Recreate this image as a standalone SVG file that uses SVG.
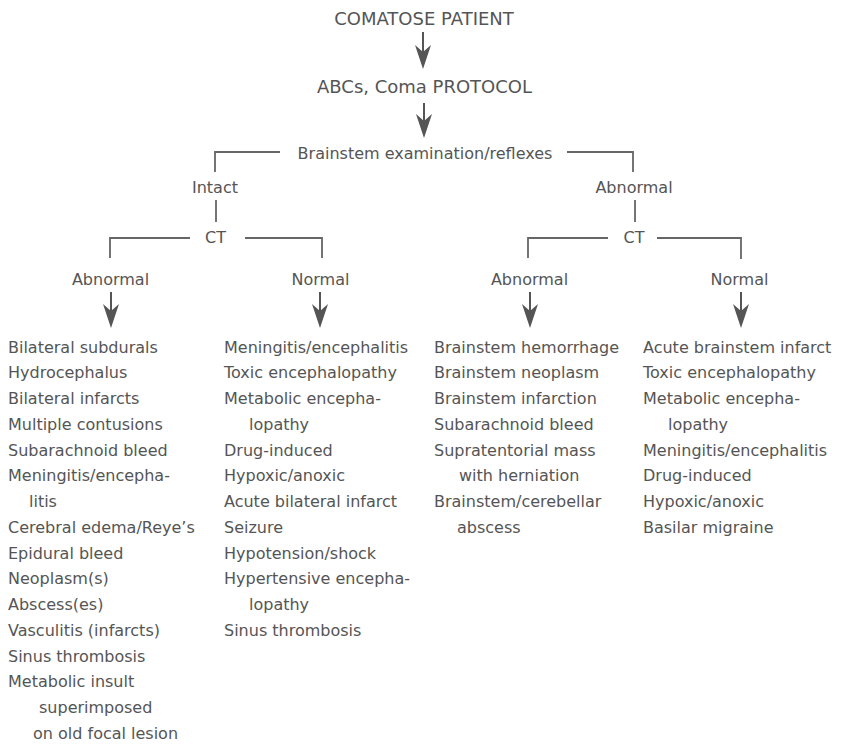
<svg xmlns="http://www.w3.org/2000/svg" width="848" height="744" viewBox="0 0 848 744">
<defs>
<style>
text{font-family:"DejaVu Sans","Liberation Sans",sans-serif;font-size:16px;fill:#555;}
.c{text-anchor:middle;}
.big{font-size:18px;}
.ln{fill:none;stroke:#666;stroke-width:1.8;}
.ar{stroke:#555;stroke-width:2;marker-end:url(#ah);}
</style>
<marker id="ah" viewBox="0 0 24 16" refX="18" refY="8" markerWidth="24" markerHeight="16" markerUnits="userSpaceOnUse" orient="auto">
<path d="M0,0 L24,8 L0,16 L7,8 Z" fill="#555"/>
</marker>
</defs>
<rect width="848" height="744" fill="#fff"/>
<g id="connectors">
<line class="ar" x1="423" y1="32" x2="423" y2="63"/>
<line class="ar" x1="424" y1="103" x2="424" y2="132"/>
<path class="ln" d="M280,152 H215 V172"/>
<path class="ln" d="M567,152 H633 V172"/>
<line class="ln" x1="216" y1="200" x2="216" y2="222"/>
<line class="ln" x1="635" y1="200" x2="635" y2="222"/>
<path class="ln" d="M190,238 H110 V258"/>
<path class="ln" d="M245,238 H322 V258"/>
<path class="ln" d="M608,238 H528 V258"/>
<path class="ln" d="M657,238 H741 V259"/>
<line class="ar" x1="111" y1="292" x2="111" y2="322"/>
<line class="ar" x1="320" y1="292" x2="320" y2="322"/>
<line class="ar" x1="530" y1="292" x2="530" y2="322"/>
<line class="ar" x1="741" y1="292" x2="741" y2="322"/>
</g>
<g id="n-comatose"><text class="c big" x="424" y="25">COMATOSE PATIENT</text></g>
<g id="n-abcs"><text class="c big" x="424.5" y="93">ABCs, Coma PROTOCOL</text></g>
<g id="n-brainstem"><text class="c" x="425" y="159">Brainstem examination/reflexes</text></g>
<g id="n-intact"><text class="c" x="215" y="193">Intact</text></g>
<g id="n-ct1"><text class="c" x="215.5" y="243">CT</text></g>
<g id="n-abn1"><text class="c" x="110.5" y="285">Abnormal</text></g>
<g id="n-norm1"><text class="c" x="320.5" y="285">Normal</text></g>
<g id="n-abnormal"><text class="c" x="634" y="193">Abnormal</text></g>
<g id="n-ct2"><text class="c" x="634" y="243">CT</text></g>
<g id="n-abn2"><text class="c" x="529.5" y="285">Abnormal</text></g>
<g id="n-norm2"><text class="c" x="739.5" y="285">Normal</text></g>
<g id="list1">
<text x="8" y="352.5">Bilateral subdurals</text>
<text x="8" y="378.3">Hydrocephalus</text>
<text x="8" y="404">Bilateral infarcts</text>
<text x="8" y="429.8">Multiple contusions</text>
<text x="8" y="455.5">Subarachnoid bleed</text>
<text x="8" y="481.3">Meningitis/encepha-</text>
<text x="29" y="507">litis</text>
<text x="8" y="532.8">Cerebral edema/Reye’s</text>
<text x="8" y="558.5">Epidural bleed</text>
<text x="8" y="584.3">Neoplasm(s)</text>
<text x="8" y="610">Abscess(es)</text>
<text x="8" y="635.8">Vasculitis (infarcts)</text>
<text x="8" y="661.5">Sinus thrombosis</text>
<text x="8" y="687.3">Metabolic insult</text>
<text x="39" y="713">superimposed</text>
<text x="33" y="738.8">on old focal lesion</text>
</g>
<g id="list2">
<text x="224" y="352.5">Meningitis/encephalitis</text>
<text x="224" y="378.3">Toxic encephalopathy</text>
<text x="224" y="404">Metabolic encepha-</text>
<text x="249" y="429.8">lopathy</text>
<text x="224" y="455.5">Drug-induced</text>
<text x="224" y="481.3">Hypoxic/anoxic</text>
<text x="224" y="507">Acute bilateral infarct</text>
<text x="224" y="532.8">Seizure</text>
<text x="224" y="558.5">Hypotension/shock</text>
<text x="224" y="584.3">Hypertensive encepha-</text>
<text x="249" y="610">lopathy</text>
<text x="224" y="635.8">Sinus thrombosis</text>
</g>
<g id="list3">
<text x="434" y="352.5">Brainstem hemorrhage</text>
<text x="434" y="378.3">Brainstem neoplasm</text>
<text x="434" y="404">Brainstem infarction</text>
<text x="434" y="429.8">Subarachnoid bleed</text>
<text x="434" y="455.5">Supratentorial mass</text>
<text x="459" y="481.3">with herniation</text>
<text x="434" y="507">Brainstem/cerebellar</text>
<text x="457" y="532.8">abscess</text>
</g>
<g id="list4">
<text x="643" y="352.5">Acute brainstem infarct</text>
<text x="643" y="378.3">Toxic encephalopathy</text>
<text x="643" y="404">Metabolic encepha-</text>
<text x="668" y="429.8">lopathy</text>
<text x="643" y="455.5">Meningitis/encephalitis</text>
<text x="643" y="481.3">Drug-induced</text>
<text x="643" y="507">Hypoxic/anoxic</text>
<text x="643" y="532.8">Basilar migraine</text>
</g>
</svg>
